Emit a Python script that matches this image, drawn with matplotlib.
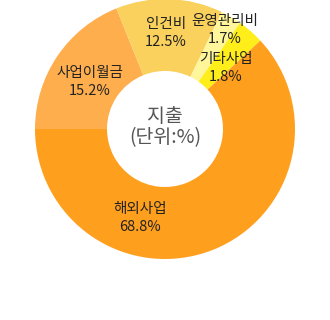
import matplotlib.pyplot as plt

plt.rcParams['font.family'] = ['Noto Sans CJK KR', 'DejaVu Sans']

# data (clockwise from 9 o'clock)
labels = ['사업이월금', '인건비', '운영관리비', '기타사업', '해외사업']
pct = ['15.2%', '12.5%', '1.7%', '1.8%', '68.8%']
# wedge sizes as drawn in the picture (small slices are drawn bigger)
sizes = [18.9, 13.3, 2.6, 3.3, 61.9]
colors = ['#FFAE4E', '#F9D15C', '#FFF69C', '#FFEE1A', '#FF9F1E']

# label anchor points in pixels (x, y from top)
label_pos = [(90, 82), (166, 33), (225, 30), (226, 68), (140, 218)]

fig = plt.figure(figsize=(3.3, 3.2), dpi=100)
ax = fig.add_axes([0, 0, 1, 1])

cx, cy = 165, 320 - 129
ax.pie(sizes, colors=colors, startangle=180, counterclock=False,
       center=(cx, cy), radius=130,
       wedgeprops=dict(width=72, linewidth=0), frame=True)
ax.set_xlim(0, 330)
ax.set_ylim(0, 320)
ax.set_aspect('equal')
ax.axis('off')

for (x, y), name, p in zip(label_pos, labels, pct):
    ax.text(x, 320 - y, name + '\n' + p, ha='center', va='center',
            fontsize=10.5, color='#222222', linespacing=1.3)

ax.text(cx, 320 - 116, '지출', ha='center', va='center', fontsize=14, color='#555555')
ax.text(cx, 320 - 138, '(단위:%)', ha='center', va='center', fontsize=14, color='#555555')

fig.savefig('out.png', dpi=100)
